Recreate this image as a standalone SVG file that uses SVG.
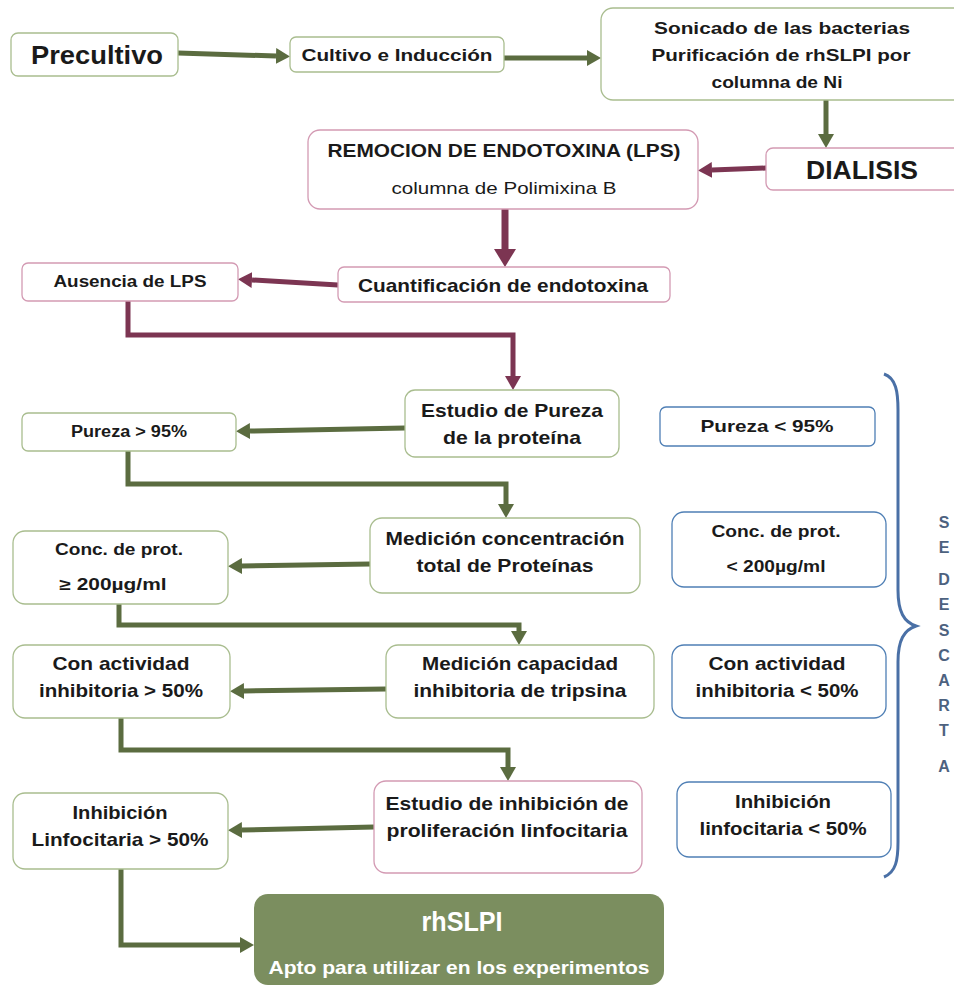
<svg xmlns="http://www.w3.org/2000/svg" width="954" height="985" viewBox="0 0 954 985">
<defs>
<style>
.g{fill:#fff;stroke:#a9bd8f;stroke-width:1.3}
.p{fill:#fff;stroke:#d39ab3;stroke-width:1.3}
.b{fill:#fff;stroke:#4f7fb5;stroke-width:1.3}
text{font-family:"Liberation Sans",Arial,sans-serif;font-weight:bold;fill:#1a1a1a;text-anchor:middle}
.n{font-weight:normal}
.w{fill:#fff}
.cg{fill:none;stroke:#5b6c40;stroke-width:5}
.cm{fill:none;stroke:#7c3552;stroke-width:5}
.sd{font-size:16px;fill:#4d627f}
</style>
<marker id="ag" viewBox="0 0 14 16" refX="0" refY="8" markerWidth="14" markerHeight="16" markerUnits="userSpaceOnUse" orient="auto"><path d="M0,0L14,8L0,16z" fill="#5b6c40"/></marker>
<marker id="am" viewBox="0 0 14 16" refX="0" refY="8" markerWidth="14" markerHeight="16" markerUnits="userSpaceOnUse" orient="auto"><path d="M0,0L14,8L0,16z" fill="#7c3552"/></marker>
<marker id="amb" viewBox="0 0 18 22" refX="0" refY="11" markerWidth="18" markerHeight="22" markerUnits="userSpaceOnUse" orient="auto"><path d="M0,0L18,11L0,22z" fill="#7c3552"/></marker>
</defs>
<rect width="954" height="985" fill="#fff"/>
<g id="connectors">
<path class="cg" d="M178,53L276,56" marker-end="url(#ag)"/>
<path class="cg" d="M504,58L587,58" marker-end="url(#ag)"/>
<path class="cg" d="M826,100L826,134" marker-end="url(#ag)"/>
<path class="cm" d="M766,168L712,170" marker-end="url(#am)"/>
<path class="cm" style="stroke-width:7" d="M505,209L505,249" marker-end="url(#amb)"/>
<path class="cm" d="M338,285L252,280" marker-end="url(#am)"/>
<path class="cm" d="M128,301L128,335L513,335L513,376" marker-end="url(#am)"/>
<path class="cg" d="M405,428L250,431" marker-end="url(#ag)"/>
<path class="cg" d="M128,451L128,484L506,484L506,504" marker-end="url(#ag)"/>
<path class="cg" d="M370,564L242,566" marker-end="url(#ag)"/>
<path class="cg" d="M119,604L119,625L519,625L519,631" marker-end="url(#ag)"/>
<path class="cg" d="M386,689L244,691" marker-end="url(#ag)"/>
<path class="cg" d="M121,718L121,750L508,750L508,767" marker-end="url(#ag)"/>
<path class="cg" d="M374,827L242,830" marker-end="url(#ag)"/>
<path class="cg" d="M121,869L121,945L240,945" marker-end="url(#ag)"/>
</g>
<g id="precultivo"><rect class="g" x="11" y="33" width="167" height="43" rx="7"/><text x="97" y="64" font-size="25" textLength="132" lengthAdjust="spacingAndGlyphs">Precultivo</text></g>
<g id="cultivo"><rect class="g" x="290" y="37" width="214" height="35" rx="6"/><text x="397" y="61" font-size="17" textLength="191" lengthAdjust="spacingAndGlyphs">Cultivo e Inducción</text></g>
<g id="sonicado"><rect class="g" x="601" y="8" width="370" height="92" rx="12"/>
<text x="782" y="34" font-size="17" textLength="256" lengthAdjust="spacingAndGlyphs">Sonicado de las bacterias</text>
<text x="781" y="61" font-size="17" textLength="259" lengthAdjust="spacingAndGlyphs">Purificación de rhSLPI por</text>
<text x="777" y="88" font-size="17" textLength="131" lengthAdjust="spacingAndGlyphs">columna de Ni</text></g>
<g id="dialisis"><rect class="p" x="766" y="148" width="210" height="42" rx="7"/><text x="862" y="179" font-size="25" textLength="112" lengthAdjust="spacingAndGlyphs">DIALISIS</text></g>
<g id="remocion"><rect class="p" x="308" y="130" width="390" height="79" rx="12"/>
<text x="504" y="157" font-size="18" textLength="353" lengthAdjust="spacingAndGlyphs">REMOCION DE ENDOTOXINA (LPS)</text>
<text class="n" x="504" y="194" font-size="17" textLength="225" lengthAdjust="spacingAndGlyphs">columna de Polimixina B</text></g>
<g id="cuantificacion"><rect class="p" x="338" y="267" width="332" height="35" rx="6"/><text x="503" y="292" font-size="19" textLength="290" lengthAdjust="spacingAndGlyphs">Cuantificación de endotoxina</text></g>
<g id="ausencia"><rect class="p" x="22" y="263" width="216" height="38" rx="6"/><text x="130" y="287" font-size="16" textLength="153" lengthAdjust="spacingAndGlyphs">Ausencia de LPS</text></g>
<g id="estudio-pureza"><rect class="g" x="405" y="390" width="214" height="67" rx="10"/>
<text x="512" y="417" font-size="19" textLength="182" lengthAdjust="spacingAndGlyphs">Estudio de Pureza</text>
<text x="512" y="444" font-size="19" textLength="138" lengthAdjust="spacingAndGlyphs">de la proteína</text></g>
<g id="pureza-mayor"><rect class="g" x="22" y="413" width="214" height="38" rx="6"/><text x="129" y="437" font-size="16" textLength="116" lengthAdjust="spacingAndGlyphs">Pureza &gt; 95%</text></g>
<g id="pureza-menor"><rect class="b" x="660" y="407" width="215" height="39" rx="6"/><text x="767" y="432" font-size="17" textLength="133" lengthAdjust="spacingAndGlyphs">Pureza &lt; 95%</text></g>
<g id="medicion-conc"><rect class="g" x="370" y="518" width="270" height="75" rx="12"/>
<text x="505" y="545" font-size="19" textLength="239" lengthAdjust="spacingAndGlyphs">Medición concentración</text>
<text x="505" y="572" font-size="19" textLength="177" lengthAdjust="spacingAndGlyphs">total de Proteínas</text></g>
<g id="conc-mayor"><rect class="g" x="13" y="531" width="215" height="73" rx="12"/>
<text x="119" y="555" font-size="16" textLength="128" lengthAdjust="spacingAndGlyphs">Conc.  de prot.</text>
<text x="113" y="590" font-size="16" textLength="107" lengthAdjust="spacingAndGlyphs">≥ 200µg/ml</text></g>
<g id="conc-menor"><rect class="b" x="672" y="512" width="214" height="75" rx="12"/>
<text x="776" y="537" font-size="16" textLength="129" lengthAdjust="spacingAndGlyphs">Conc.  de prot.</text>
<text x="776" y="572" font-size="16" textLength="99" lengthAdjust="spacingAndGlyphs">&lt; 200µg/ml</text></g>
<g id="medicion-cap"><rect class="g" x="386" y="645" width="268" height="73" rx="12"/>
<text x="520" y="670" font-size="19" textLength="196" lengthAdjust="spacingAndGlyphs">Medición capacidad</text>
<text x="520" y="697" font-size="19" textLength="213" lengthAdjust="spacingAndGlyphs">inhibitoria de tripsina</text></g>
<g id="actividad-mayor"><rect class="g" x="13" y="645" width="217" height="73" rx="12"/>
<text x="121" y="670" font-size="19" textLength="137" lengthAdjust="spacingAndGlyphs">Con actividad</text>
<text x="121" y="697" font-size="19" textLength="164" lengthAdjust="spacingAndGlyphs">inhibitoria &gt; 50%</text></g>
<g id="actividad-menor"><rect class="b" x="672" y="645" width="214" height="73" rx="12"/>
<text x="777" y="670" font-size="18" textLength="137" lengthAdjust="spacingAndGlyphs">Con actividad</text>
<text x="777" y="697" font-size="18" textLength="163" lengthAdjust="spacingAndGlyphs">inhibitoria &lt; 50%</text></g>
<g id="estudio-inhibicion"><rect class="p" x="374" y="781" width="268" height="92" rx="12"/>
<text x="507" y="810" font-size="19" textLength="243" lengthAdjust="spacingAndGlyphs">Estudio de inhibición de</text>
<text x="507" y="837" font-size="19" textLength="241" lengthAdjust="spacingAndGlyphs">proliferación linfocitaria</text></g>
<g id="inhibicion-mayor"><rect class="g" x="13" y="793" width="215" height="76" rx="12"/>
<text x="120" y="819" font-size="19" textLength="95" lengthAdjust="spacingAndGlyphs">Inhibición</text>
<text x="120" y="846" font-size="19" textLength="177" lengthAdjust="spacingAndGlyphs">Linfocitaria &gt; 50%</text></g>
<g id="inhibicion-menor"><rect class="b" x="677" y="782" width="214" height="75" rx="12"/>
<text x="783" y="808" font-size="18" textLength="96" lengthAdjust="spacingAndGlyphs">Inhibición</text>
<text x="783" y="835" font-size="18" textLength="167" lengthAdjust="spacingAndGlyphs">linfocitaria &lt; 50%</text></g>
<g id="rhslpi"><rect x="254" y="894" width="410" height="91" rx="14" fill="#7b8e5f"/>
<text class="w" x="462" y="931" font-size="27" textLength="81" lengthAdjust="spacingAndGlyphs">rhSLPI</text>
<text class="w" x="459" y="974" font-size="19" textLength="381" lengthAdjust="spacingAndGlyphs">Apto para utilizar en los experimentos</text></g>
<g id="se-descarta">
<path d="M884,374C896,378 898,392 898,410L898,590C898,612 904,622 916,626C904,630 898,640 898,662L898,842C898,860 896,872 884,877" fill="none" stroke="#4a70a6" stroke-width="3"/>
<text class="sd" x="944" y="528">S</text>
<text class="sd" x="944" y="553">E</text>
<text class="sd" x="944" y="585">D</text>
<text class="sd" x="944" y="610">E</text>
<text class="sd" x="944" y="636">S</text>
<text class="sd" x="944" y="661">C</text>
<text class="sd" x="944" y="686">A</text>
<text class="sd" x="944" y="711">R</text>
<text class="sd" x="944" y="736">T</text>
<text class="sd" x="944" y="772">A</text>
</g>
</svg>
